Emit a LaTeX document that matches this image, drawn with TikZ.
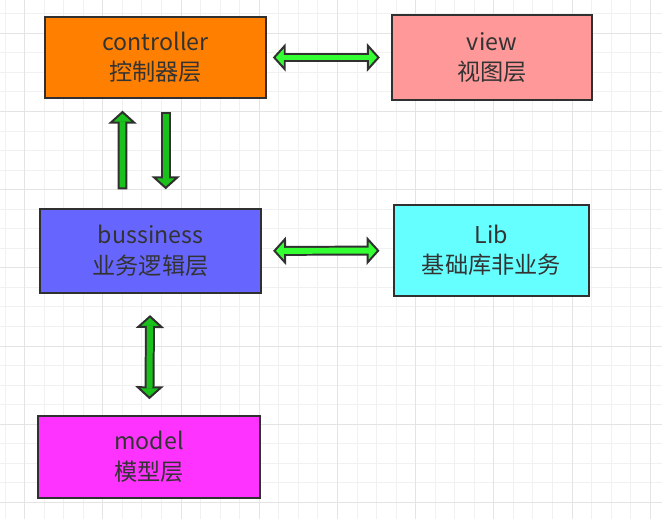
\documentclass[tikz,border=0pt]{standalone}
\usepackage{fontspec}
\usepackage{tikz}
\usetikzlibrary{arrows.meta, calc, positioning}
\newfontfamily\cjk{Noto Sans CJK SC}

\definecolor{edgegray}{HTML}{303030}
\definecolor{textgray}{HTML}{333333}
\definecolor{gridminor}{HTML}{F1F1F1}
\definecolor{gridmajor}{HTML}{E4E4E4}
\definecolor{ctrlorange}{HTML}{FF8000}
\definecolor{viewpink}{HTML}{FF9999}
\definecolor{busblue}{HTML}{6666FF}
\definecolor{libcyan}{HTML}{66FFFF}
\definecolor{modelpink}{HTML}{FF33FF}
\definecolor{limegreen}{HTML}{33FF33}
\definecolor{darkgreen}{HTML}{1BC11B}

\tikzset{
    layer/.style={draw=edgegray, line width=1.7pt, fill=#1, align=center,
        text=textgray, inner sep=0pt,
        font=\cjk\fontsize{19.8}{26}\selectfont},
    % dark body of a fat arrow, tips on both ends
    fatboth/.style={draw=edgegray, line width=8.5pt,
        {Triangle[length=11pt, width=24pt, fill=#1, line width=1.7pt]}-{Triangle[length=11pt, width=24pt, fill=#1, line width=1.7pt]}},
    % dark body of a fat arrow, tip at the end only
    fatone/.style={draw=edgegray, line width=8.5pt,
        -{Triangle[length=11pt, width=24pt, fill=#1, line width=1.7pt]}},
    % coloured core laid over the body
    fatcore/.style={draw=#1, line width=5.1pt}
}

\begin{document}
\begin{tikzpicture}[x=1cm, y=-1cm]
    \useasboundingbox (0,0) rectangle (19.86,15.57);

    % background grid
    \foreach \i in {0,...,33}
        \draw[gridminor, line width=0.7pt] ({0.1515+\i*0.5865},0) -- ++(0,15.57);
    \foreach \j in {0,...,26}
        \draw[gridminor, line width=0.7pt] (0,{0.4095+\j*0.5865}) -- ++(19.86,0);
    \foreach \i in {0,...,8}
        \draw[gridmajor, line width=0.7pt] ({0.738+\i*2.346},0) -- ++(0,15.57);
    \foreach \j in {0,...,6}
        \draw[gridmajor, line width=0.7pt] (0,{0.996+\j*2.346}) -- ++(19.86,0);

    % layers
    \node[layer=ctrlorange, minimum width=6.63cm, minimum height=2.43cm] (ctrl) at (4.665,1.725)
        {controller\\控制器层};
    \node[layer=viewpink, minimum width=6.0cm, minimum height=2.55cm] (view) at (14.76,1.725)
        {view\\视图层};
    \node[layer=busblue, minimum width=6.63cm, minimum height=2.52cm] (bus) at (4.515,7.53)
        {bussiness\\业务逻辑层};
    \node[layer=libcyan, minimum width=5.85cm, minimum height=2.73cm] (lib) at (14.745,7.515)
        {Lib\\基础库非业务};
    \node[layer=modelpink, minimum width=6.66cm, minimum height=2.46cm] (model) at (4.47,13.71)
        {model\\模型层};

    % controller <-> view
    \draw[fatboth=limegreen, shorten <=5pt, shorten >=9.5pt] (ctrl) -- (view);
    \draw[fatcore=limegreen, shorten <=14pt, shorten >=18.5pt] (ctrl) -- (view);

    % bussiness <-> lib
    \draw[fatboth=limegreen, shorten <=9.5pt, shorten >=11.5pt] (bus) -- (lib);
    \draw[fatcore=limegreen, shorten <=18.5pt, shorten >=20.5pt] (bus) -- (lib);

    % bussiness -> controller
    \draw[fatone=darkgreen, shorten <=16pt, shorten >=10pt]
        ([xshift=-0.84cm]bus.north) -- ([xshift=-0.99cm]ctrl.south);
    \draw[fatcore=darkgreen, shorten <=17.7pt, shorten >=19pt]
        ([xshift=-0.84cm]bus.north) -- ([xshift=-0.99cm]ctrl.south);

    % controller -> bussiness
    \draw[fatone=darkgreen, shorten <=11pt, shorten >=16pt]
        ([xshift=0.306cm]ctrl.south) -- ([xshift=0.456cm]bus.north);
    \draw[fatcore=darkgreen, shorten <=12.7pt, shorten >=25pt]
        ([xshift=0.306cm]ctrl.south) -- ([xshift=0.456cm]bus.north);

    % bussiness <-> model
    \draw[fatboth=darkgreen, shorten <=18pt, shorten >=13.5pt] (bus) -- (model);
    \draw[fatcore=darkgreen, shorten <=27pt, shorten >=22.5pt] (bus) -- (model);

\end{tikzpicture}
\end{document}
